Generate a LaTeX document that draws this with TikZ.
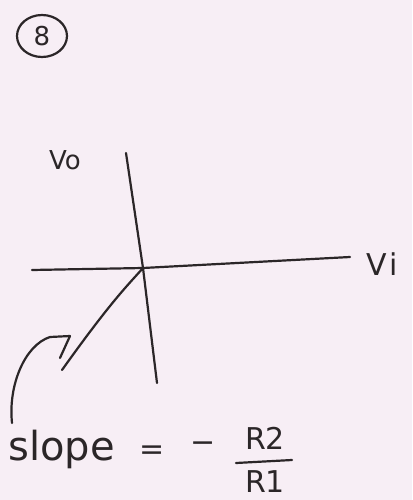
\documentclass[tikz,border=0pt]{standalone}
\usepackage{fontspec}
\setmainfont{DejaVu Sans}
\definecolor{paper}{HTML}{F7EEF5}
\definecolor{ink}{HTML}{2B2628}
\begin{document}
\begin{tikzpicture}[x=1pt,y=-1pt,
  pen/.style={draw=ink,line width=2.2pt,line cap=round,line join=round},
  hand/.style={text=ink,inner sep=0pt,anchor=center}]
\fill[paper] (0,0) rectangle (412,500);
\useasboundingbox (0,0) rectangle (412,500);
% question number
\node[hand,font=\fontsize{26}{28}\selectfont] (num) at (42,36) {8};
\draw[pen] (num) ellipse (25 and 21);
% axes
\coordinate (o) at (143,268);
\coordinate (yt) at (126,153);
\coordinate (yb) at (157,383);
\coordinate (xl) at (32,270);
\coordinate (xr) at (350,257);
\draw[pen] (yt) -- (o) -- (yb);
\draw[pen] (xl) -- (o) -- (xr);
\node[hand,font=\fontsize{26}{28}\selectfont] (vo) at (65,160) {Vo};
\node[hand,font=\fontsize{30}{32}\selectfont] (vi) at (382,264) {V\kern3pt i};
% slope line
\coordinate (se) at (62,370);
\draw[pen] (o) .. controls (128,285) and (112,300) .. (se);
% curved arrow
\coordinate (as) at (12,423);
\coordinate (ae) at (50,337);
\draw[pen] (as) .. controls (8,385) and (25,345) .. (ae);
\draw[pen] (ae) -- (70,336) -- (60,358);
% formula
\node[hand,font=\fontsize{40}{42}\selectfont,anchor=base west] (slope) at (8,460) {slope};
\node[hand,font=\fontsize{30}{32}\selectfont] (eq) at (152,453) {=};
\node[hand,font=\fontsize{30}{32}\selectfont] (minus) at (203,447) {−};
\node[hand,font=\fontsize{30}{32}\selectfont] (r2) at (265,438) {R2};
\node[hand,font=\fontsize{30}{32}\selectfont] (r1) at (265,482) {R1};
\draw[pen] (236,463) -- (292,460);
\end{tikzpicture}
\end{document}
